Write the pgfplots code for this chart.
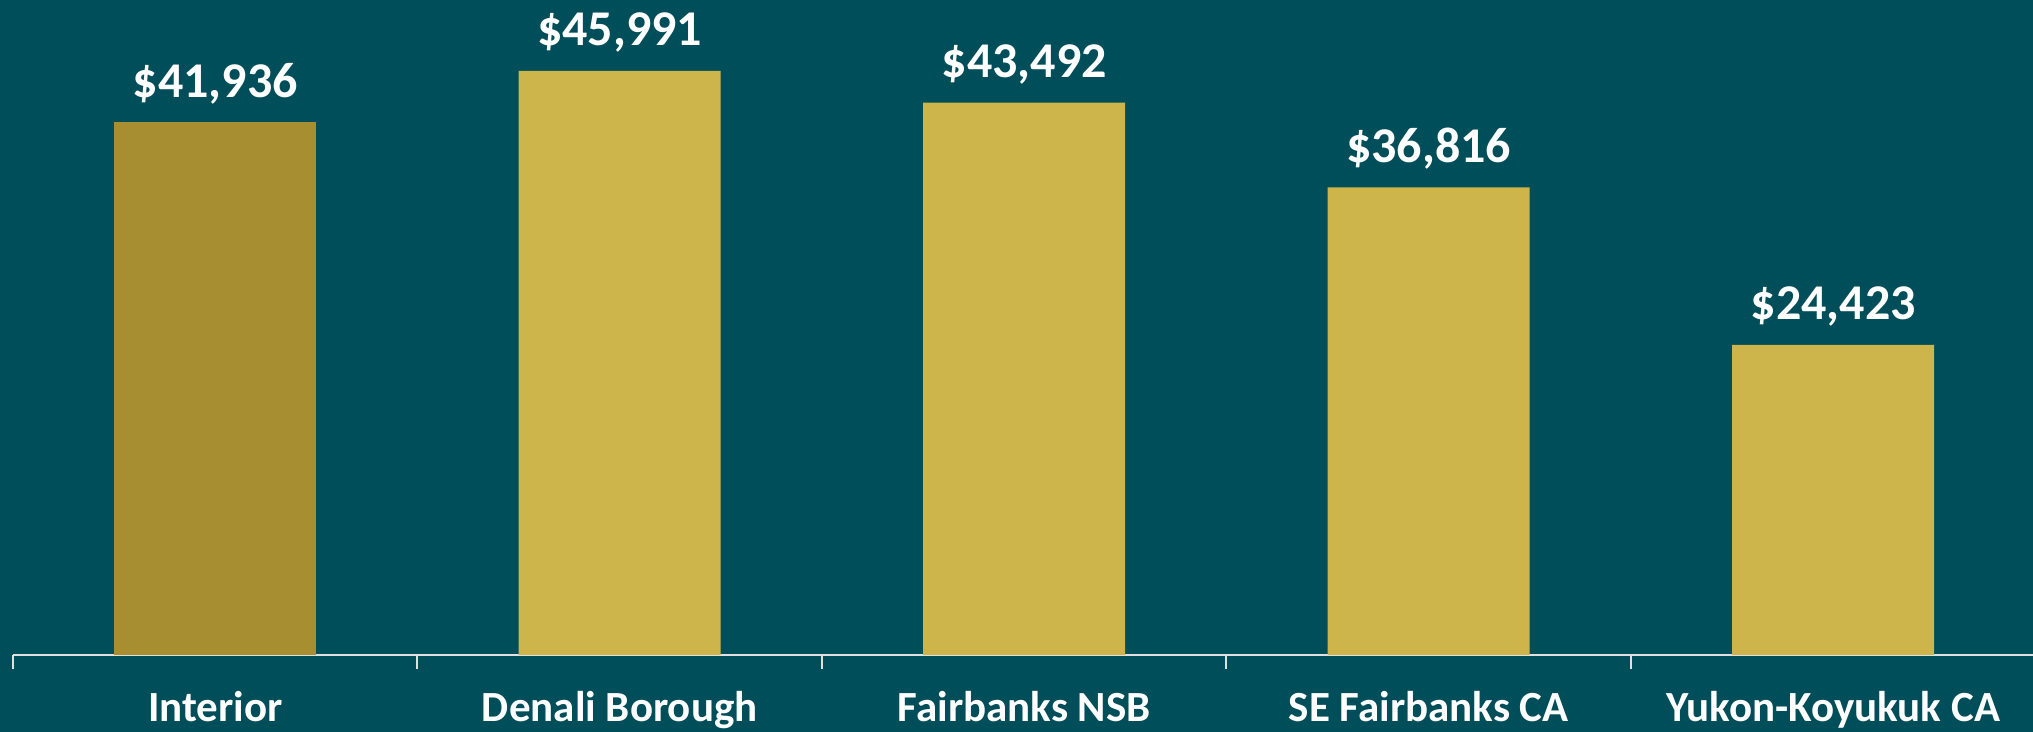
\documentclass[border=0pt]{standalone}
\usepackage{pgfplots}
\pgfplotsset{compat=1.18}
\usepackage{fontspec}
\setmainfont{Carlito}
\definecolor{bg}{HTML}{004E59}
\definecolor{barA}{HTML}{A68E31}
\definecolor{barB}{HTML}{CDB54C}
\begin{document}
\begin{tikzpicture}
\path[use as bounding box] (-6.5pt,-38.5pt) rectangle (1010pt,327.5pt);
\fill[bg] (-6.5pt,-38.5pt) rectangle (1010pt,327.5pt);
\begin{axis}[
  at={(0pt,0pt)}, anchor=south west,
  scale only axis,
  width=1011.25pt, height=317.5pt,
  xmin=-0.5, xmax=4.5, ymin=0, ymax=50000,
  axis y line=none,
  axis x line=bottom,
  x axis line style={-, draw=white!88!black, line width=1pt},
  xtick={0,1,2,3,4},
  xticklabels={Interior, Denali Borough, Fairbanks NSB, SE Fairbanks CA, Yukon-Koyukuk CA},
  major tick length=0pt,
  minor xtick={-0.5,0.5,1.5,2.5,3.5,4.5},
  minor tick length=7pt,
  tick align=outside,
  minor tick style={draw=white!88!black, line width=1pt},
  xticklabel style={anchor=base, yshift=-33.5pt, font=\fontsize{21.5}{25}\selectfont\bfseries, text=white, inner sep=0pt},
  ybar, bar width=101pt, bar shift=0pt,
  nodes near coords={\$\pgfmathprintnumber{\pgfplotspointmeta}},
  nodes near coords style={anchor=base, yshift=12.5pt, inner sep=0pt, font=\fontsize{25}{30}\selectfont\bfseries, text=white,
    /pgf/number format/.cd, fixed, precision=0, 1000 sep={,}, assume math mode=true},
  clip=false,
]
\addplot[draw=none, fill=barA] coordinates {(0,41936)};
\addplot[draw=none, fill=barB] coordinates {(1,45991) (2,43492) (3,36816) (4,24423)};
\end{axis}
\end{tikzpicture}
\end{document}
